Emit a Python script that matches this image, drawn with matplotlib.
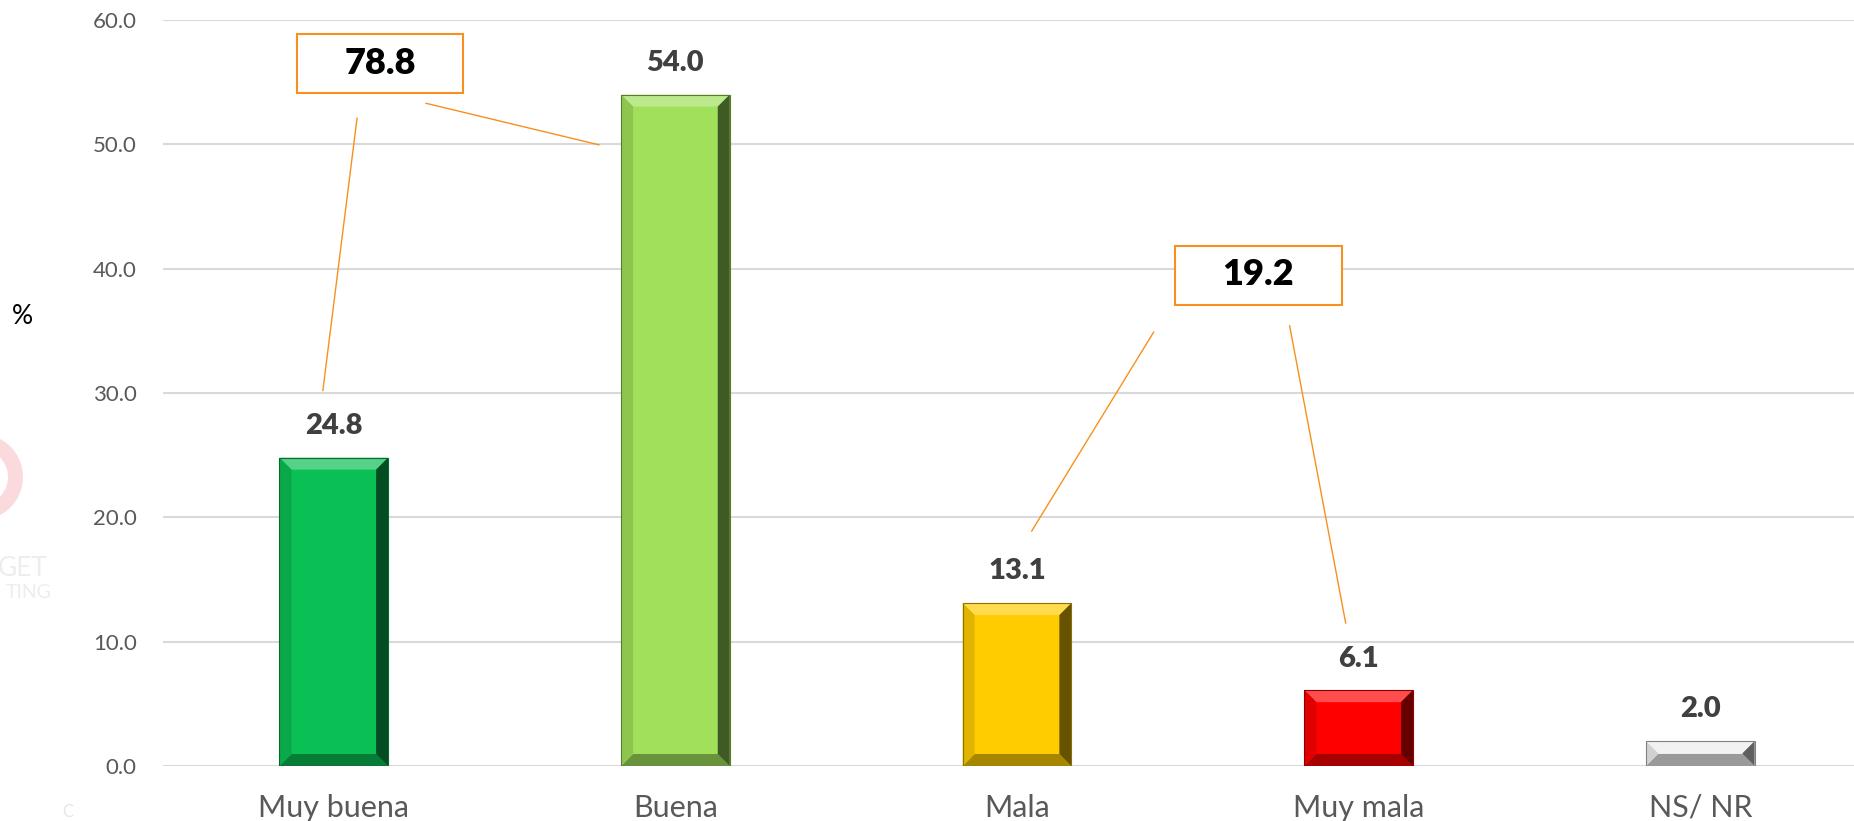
import matplotlib.pyplot as plt
import matplotlib.patches as mpatches
import matplotlib.transforms as mtransforms
import numpy as np
from matplotlib.colors import to_rgb

# Data
categories = ['Muy buena', 'Buena', 'Mala', 'Muy mala', 'NS/ NR']
values = [24.8, 54.0, 13.1, 6.1, 2.0]
yticks = [0, 10, 20, 30, 40, 50, 60]

# group totals (positivas / negativas)
total_pos = round(values[0] + values[1], 1)
total_neg = round(values[2] + values[3], 1)

bar_colors = ['#0ABF53', '#A0E05A', '#FFCC00', '#FF0000', '#EDEDED']
orange = '#F7901E'

plt.rcParams['font.family'] = ['Lato', 'DejaVu Sans']


def mix(c, other, t):
    c = np.array(to_rgb(c))
    o = np.array(to_rgb(other))
    return tuple(c * (1 - t) + o * t)


def bevel(ax, patch, base, bpx=12):
    # draw bevelled edges on a bar (approximation of the office style)
    x0, y0 = patch.get_x(), patch.get_y()
    x1, y1 = x0 + patch.get_width(), y0 + patch.get_height()
    p0 = ax.transData.transform((0, 0))
    p1 = ax.transData.transform((1, 1))
    dx = bpx / (p1[0] - p0[0])
    dy = min(bpx / (p1[1] - p0[1]), (y1 - y0) / 2)
    shapes = [
        ([(x0, y1), (x1, y1), (x1 - dx, y1 - dy), (x0 + dx, y1 - dy)], mix(base, 'white', 0.3)),
        ([(x0, y0), (x1, y0), (x1 - dx, y0 + dy), (x0 + dx, y0 + dy)], mix(base, 'black', 0.35)),
        ([(x0, y0), (x0 + dx, y0 + dy), (x0 + dx, y1 - dy), (x0, y1)], mix(base, 'black', 0.12)),
        ([(x1, y0), (x1 - dx, y0 + dy), (x1 - dx, y1 - dy), (x1, y1)], mix(base, 'black', 0.6)),
    ]
    for pts, col in shapes:
        ax.add_patch(mpatches.Polygon(pts, closed=True, facecolor=col,
                                      edgecolor='none', zorder=3))
    ax.add_patch(mpatches.Rectangle((x0, y0), x1 - x0, y1 - y0, fill=False,
                                    edgecolor=mix(base, 'black', 0.45),
                                    linewidth=0.8, zorder=4))


fig = plt.figure(figsize=(18.54, 8.21), dpi=100)
ax = fig.add_axes([163 / 1854, 55 / 821, 1 - 163 / 1854, 746 / 821])

x = np.arange(len(categories))
bars = ax.bar(x, values, width=0.318, color=bar_colors, zorder=2)

ax.set_xlim(-0.5, 4.45)
ax.set_ylim(0, 60)
ax.set_yticks(yticks)
ax.set_yticklabels([f'{v:.1f}' for v in yticks])
ax.set_xticks(x)
ax.set_xticklabels(categories)

ax.grid(axis='y', color='#D9D9D9', linewidth=1.5, zorder=0)
ax.set_axisbelow(True)
for s in ax.spines.values():
    s.set_visible(False)
ax.tick_params(axis='y', length=0, pad=19, labelsize=16, labelcolor='#595959')
ax.tick_params(axis='x', length=0, pad=20, labelsize=22, labelcolor='#595959')

for b, c in zip(bars, bar_colors):
    bevel(ax, b, c)

for xi, v in zip(x, values):
    ax.text(xi, v + 1.5, f'{v:.1f}', ha='center', va='bottom', fontsize=21,
            fontweight='heavy', color='#404040')

# summary boxes with leader lines
ax.add_patch(mpatches.Rectangle((-0.108, 54.1), 0.486, 4.8, facecolor='white',
                                edgecolor=orange, linewidth=1.5, zorder=4))
ax.text(0.135, 56.5, f'{total_pos:.1f}', ha='center', va='center', fontsize=26,
        fontweight='heavy', color='black', zorder=5)
ax.add_patch(mpatches.Rectangle((2.462, 37.1), 0.488, 4.7, facecolor='white',
                                edgecolor=orange, linewidth=1.5, zorder=4))
ax.text(2.706, 39.5, f'{total_neg:.1f}', ha='center', va='center', fontsize=26,
        fontweight='heavy', color='black', zorder=5)

leaders = [((0.068, 52.1), (-0.032, 30.2)),
           ((0.27, 53.3), (0.776, 49.96)),
           ((2.40, 34.9), (2.043, 18.9)),
           ((2.798, 35.4), (2.962, 11.5))]
for (xa, ya), (xb, yb) in leaders:
    ax.plot([xa, xb], [ya, yb], color=orange, linewidth=1.0, zorder=4)

fig.text(22 / 1854, 1 - 316 / 821, '%', ha='center', va='center', fontsize=19, color='black')

# faint watermark at the left edge
ident = mtransforms.IdentityTransform()
fig.add_artist(mpatches.Wedge((-20, 821 - 477), 43, -90, 90, width=15,
                              facecolor='#FADADD', edgecolor='none', transform=ident))
fig.text(48 / 1854, 1 - 568 / 821, 'GET', ha='right', va='center', fontsize=19, color='#EDEDED')
fig.text(52 / 1854, 1 - 592 / 821, 'TING', ha='right', va='center', fontsize=14, color='#EDEDED')
fig.text(68 / 1854, 1 - 812 / 821, 'C', ha='center', va='center', fontsize=12, color='#E6E6E6')

fig.savefig('out.png', dpi=100)
